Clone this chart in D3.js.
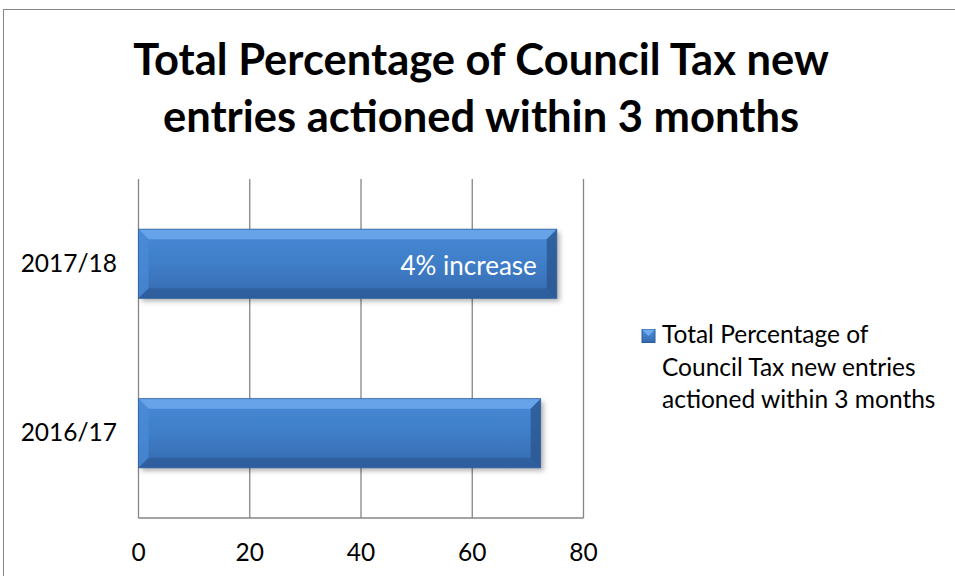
<!DOCTYPE html>
<html><head><meta charset="utf-8">
<script src="https://cdn.jsdelivr.net/npm/d3@7/dist/d3.min.js"></script>
<style>body{margin:0;background:#fff}svg{display:block}text{font-family:Lato,"Open Sans",sans-serif}</style>
</head><body><svg id="c" width="955" height="576"></svg>
<script>
const categories = ["2017/18", "2016/17"];
const values = [75.2, 72.3];
const xTicks = [0, 20, 40, 60, 80];
const seriesName = "Total Percentage of Council Tax new entries actioned within 3 months";
const titleLines = ["Total Percentage of Council Tax new", "entries actioned within 3 months"];
const legendLines = ["Total Percentage of", "Council Tax new entries", "actioned within 3 months"];
const barLabel = "4% increase";

const svg = d3.select("#c");
svg.append("rect").attr("x",3.5).attr("y",9.5).attr("width",960).attr("height",600)
  .attr("fill","#fff").attr("stroke","#868686").attr("stroke-width",1);

const defs = svg.append("defs");
const g1 = defs.append("linearGradient").attr("id","bg").attr("x1",0).attr("y1",0).attr("x2",0).attr("y2",1);
[[0,"#4889d6"],[0.5,"#3f7ec8"],[1,"#3569ae"]].forEach(s=>g1.append("stop").attr("offset",s[0]).attr("stop-color",s[1]));
const f = defs.append("filter").attr("id","sh").attr("x","-5%").attr("y","-20%").attr("width","115%").attr("height","150%");
f.append("feDropShadow").attr("dx",3).attr("dy",3).attr("stdDeviation",2.5).attr("flood-color","#000").attr("flood-opacity",0.3);

const L=138.5, R=583.5, T=179, B=518;
const x = d3.scaleLinear().domain([0,80]).range([L,R]);
const y = d3.scaleBand().domain(categories).range([T,B]).paddingInner(0.592).paddingOuter(0.296);

svg.append("g").selectAll("line").data(xTicks).join("line")
  .attr("x1",d=>x(d)).attr("x2",d=>x(d)).attr("y1",T).attr("y2",B)
  .attr("stroke","#868686").attr("stroke-width",1.3);
svg.append("line").attr("x1",L).attr("x2",R).attr("y1",B).attr("y2",B).attr("stroke","#868686").attr("stroke-width",1.3);

const bars = svg.append("g").selectAll("g").data(categories).join("g");
bars.each(function(c,i){
  const g = d3.select(this);
  const x0=x(0), x1=x(values[i]), y0=y(c), h=y.bandwidth(), y1=y0+h, b=10;
  g.append("rect").attr("x",x0).attr("y",y0).attr("width",x1-x0).attr("height",h)
    .attr("fill","url(#bg)").attr("filter","url(#sh)");
  g.append("polygon").attr("points",`${x0},${y0} ${x1},${y0} ${x1-b},${y0+b} ${x0+b},${y0+b}`).attr("fill","#6eaaee").attr("opacity",0.8);
  g.append("polygon").attr("points",`${x0},${y1} ${x1},${y1} ${x1-b},${y1-b} ${x0+b},${y1-b}`).attr("fill","#2c5a96").attr("opacity",0.7);
  g.append("polygon").attr("points",`${x0},${y0} ${x0+b},${y0+b} ${x0+b},${y1-b} ${x0},${y1}`).attr("fill","#4a8bd8").attr("opacity",0.7);
  g.append("polygon").attr("points",`${x1},${y0} ${x1-b},${y0+b} ${x1-b},${y1-b} ${x1},${y1}`).attr("fill","#2a5690").attr("opacity",0.8);
  g.append("rect").attr("x",x0).attr("y",y0).attr("width",x1-x0).attr("height",h).attr("fill","none").attr("stroke","#34649f").attr("stroke-width",0.8);
});

svg.append("text").attr("x",x(values[0])-20).attr("y",275)
  .attr("text-anchor","end").attr("fill","#fff").attr("font-size",26).text(barLabel);

svg.append("g").selectAll("text").data(xTicks).join("text")
  .attr("x",d=>x(d)).attr("y",561).attr("text-anchor","middle").attr("font-size",24.5).attr("fill","#000").text(d=>d);
svg.append("g").selectAll("text").data(categories).join("text")
  .attr("x",117).attr("y",d=>y(d)+y.bandwidth()/2+8).attr("text-anchor","end").attr("font-size",24.5).attr("fill","#000").text(d=>d);

svg.append("g").selectAll("text").data(titleLines).join("text")
  .attr("x",481).attr("y",(d,i)=>75+i*57).attr("text-anchor","middle").attr("font-size",43.5).attr("font-weight","bold").attr("fill","#000").text(d=>d);

const lg = svg.append("g").attr("aria-label",seriesName);
lg.append("rect").attr("x",642).attr("y",329.5).attr("width",13).attr("height",13).attr("fill","url(#bg)").attr("stroke","#2d5b96");
lg.append("polygon").attr("points","642,329.5 655,329.5 648.5,336").attr("fill","#6eaaee");
lg.selectAll("text").data(legendLines).join("text")
  .attr("x",662).attr("y",(d,i)=>343+i*32.5).attr("font-size",24.5).attr("fill","#000").text(d=>d);
</script></body></html>
